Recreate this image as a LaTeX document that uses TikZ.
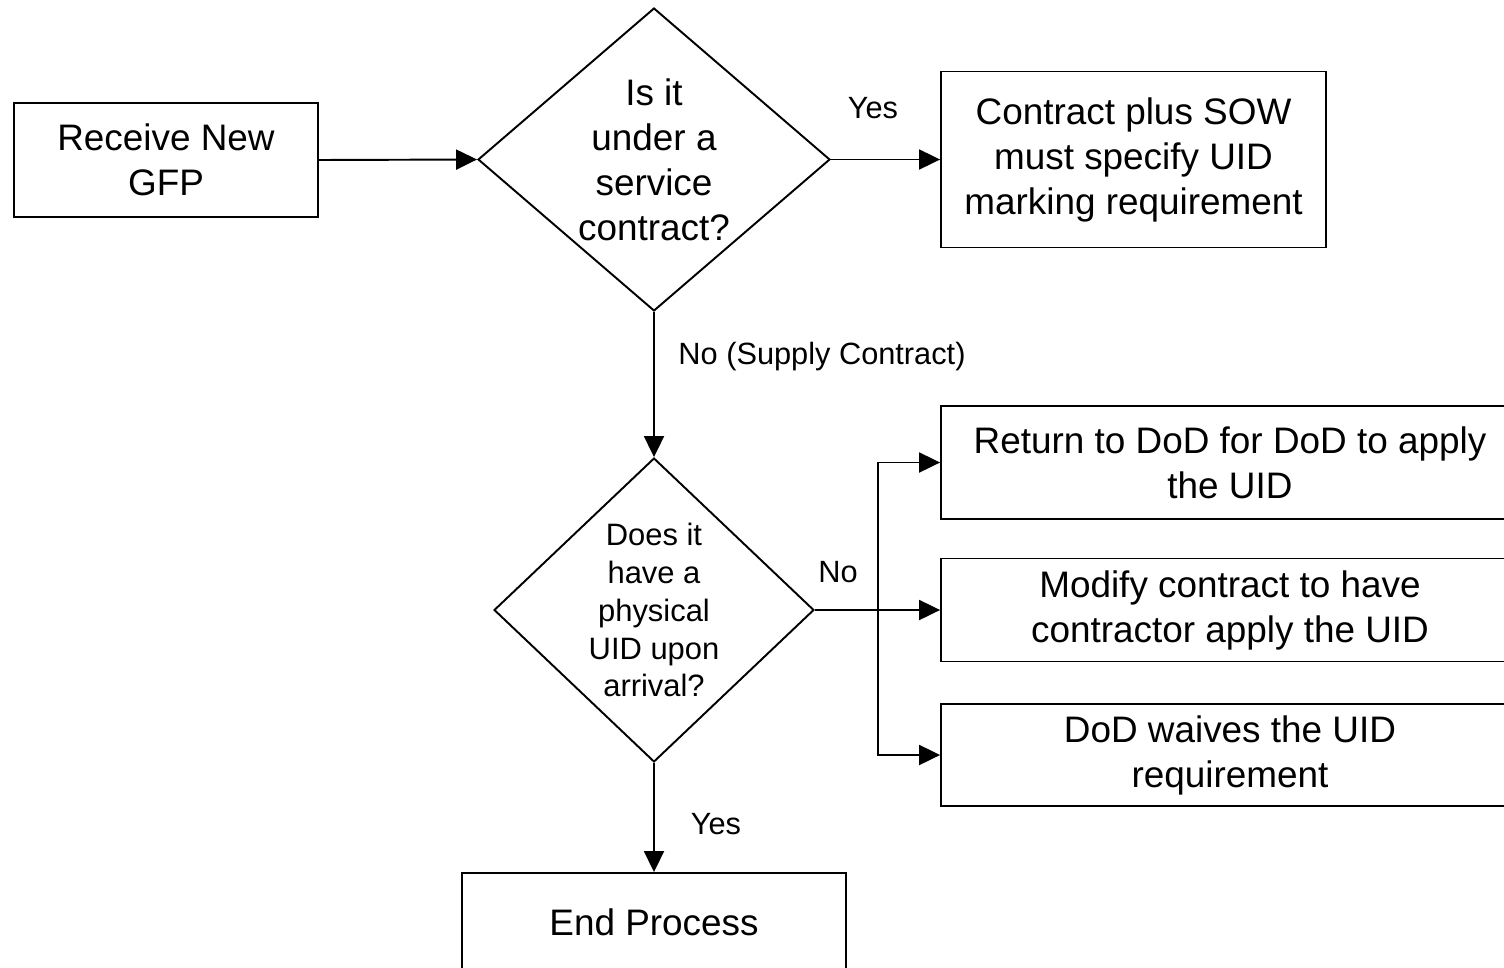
\documentclass[tikz,border=0pt]{standalone}
\usepackage{fontspec}
\setmainfont{Liberation Sans}
\usetikzlibrary{shapes.geometric,arrows.meta}

\begin{document}
\begin{tikzpicture}[x=0.02cm, y=-0.02cm, line width=1.1pt,
    box/.style={draw, rectangle, inner sep=0pt, align=center,
      font=\fontsize{21}{25.6}\selectfont},
    ask/.style={draw, diamond, inner sep=0pt},
    asktext/.style={align=center, inner sep=0pt},
    lbl/.style={inner sep=0pt, font=\fontsize{17.5}{21}\selectfont},
    arr/.style={-{Triangle[length=0.42cm,width=0.4cm]}}]
    \useasboundingbox (0,0) rectangle (1504,967);
    % boxes
    \node [box, minimum width=6.08cm, minimum height=2.28cm] (recv) at (166,160)
      {Receive New\\GFP};
    \node [box, minimum width=7.7cm, minimum height=3.52cm] (sow) at (1133.5,159.5)
      {Contract plus SOW\\must specify UID\\marking requirement};
    \node [box, minimum width=11.56cm, minimum height=2.26cm] (ret) at (1230,462.5)
      {Return to DoD for DoD to apply\\the UID};
    \node [box, minimum width=11.56cm, minimum height=2.06cm] (mod) at (1230,610)
      {Modify contract to have\\contractor apply the UID};
    \node [box, minimum width=11.56cm, minimum height=2.04cm] (waive) at (1230,755)
      {DoD waives the UID\\requirement};
    \node [box, minimum width=7.68cm, minimum height=1.96cm] (endp) at (654,922)
      {End Process};
    % decisions
    \node [ask, minimum width=7.04cm, minimum height=6.06cm] (q1) at (654,159.5) {};
    \node [asktext, font=\fontsize{21}{25.6}\selectfont] (q1t) at (q1)
      {Is it\\under a\\service\\contract?};
    \node [ask, minimum width=6.4cm, minimum height=6.08cm] (q2) at (654,610) {};
    \node [asktext, font=\fontsize{17.6}{21.6}\selectfont] (q2t) at (q2)
      {Does it\\have a\\physical\\UID upon\\arrival?};
    \coordinate (br) at (878,610);
    % connectors
    \draw [arr] (recv.east) -- (q1.west);
    \draw [arr] (q1.east) -- (sow.west);
    \draw [arr] (q1.south) -- (q2.north);
    \draw (q2.east) -- (br);
    \draw [arr] (br) |- (ret.west);
    \draw [arr] (br) -- (mod.west);
    \draw [arr] (br) |- (waive.west);
    \draw [arr] (q2.south) -- (endp.north);
    % labels
    \node [lbl] (yes1) at (873,108) {Yes};
    \node [lbl] (no1) at (822,357) {No (Supply Contract)};
    \node [lbl] (no2) at (838,572) {No};
    \node [lbl] (yes2) at (716,824) {Yes};
  \end{tikzpicture}
\end{document}
